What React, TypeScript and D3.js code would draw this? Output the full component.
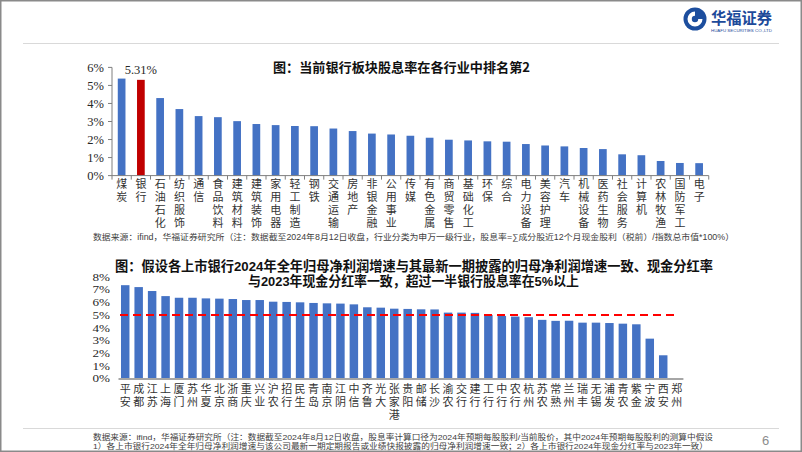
import React from "react";
import * as d3 from "d3";

const industries = ["煤炭","银行","石油石化","纺织服饰","通信","食品饮料","建筑材料","建筑装饰","家用电器","轻工制造","钢铁","交通运输","房地产","非银金融","公用事业","传媒","有色金属","商贸零售","基础化工","环保","综合","电力设备","美容护理","汽车","机械设备","医药生物","社会服务","计算机","农林牧渔","国防军工","电子"];
const industryYield = [5.38,5.31,4.30,3.69,3.30,3.24,3.02,2.86,2.80,2.75,2.74,2.61,2.47,2.33,2.28,2.21,2.10,1.99,1.95,1.90,1.88,1.75,1.67,1.62,1.53,1.47,1.18,1.13,0.81,0.70,0.69];
const yTicks1 = [0,1,2,3,4,5,6];

const banks = ["平安","成都","江苏","上海","厦门","苏州","华夏","北京","浙商","重庆","兴业","沪农","招行","民生","青岛","南京","江阴","中信","齐鲁","光大","张家港","贵阳","邮储","长沙","渝农","交行","建行","工行","中行","农行","杭州","苏农","常熟","兰州","瑞丰","无锡","浦发","青农","紫金","宁波","西安","郑州"];
const bankYield: (number | null)[] = [7.34,7.19,6.88,6.48,6.35,6.35,6.30,6.28,6.25,6.17,6.17,6.04,6.02,5.99,5.94,5.91,5.89,5.83,5.60,5.57,5.49,5.47,5.44,5.43,5.18,5.18,5.16,5.00,4.92,4.87,4.82,4.61,4.53,4.54,4.39,4.39,4.36,4.31,4.26,3.13,1.82,null];
const yTicks2 = [0,1,2,3,4,5,6,7,8];
const threshold = 5;

const title1 = "图：当前银行板块股息率在各行业中排名第2";
const title2a = "图：假设各上市银行2024年全年归母净利润增速与其最新一期披露的归母净利润增速一致、现金分红率";
const title2b = "与2023年现金分红率一致，超过一半银行股息率在5%以上";
const note1 = "数据来源：ifind，华福证券研究所（注：数据截至2024年8月12日收盘，行业分类为申万一级行业，股息率=∑成分股近12个月现金股利（税前）/指数总市值*100%）";
const note2a = "数据来源：ifind，华福证券研究所（注：数据截至2024年8月12日收盘，股息率计算口径为2024年预期每股股利/当前股价，其中2024年预期每股股利的测算中假设";
const note2b = "1）各上市银行2024年全年归母净利润增速与该公司最新一期定期报告或业绩快报披露的归母净利润增速一致；2）各上市银行2024年现金分红率与2023年一致）";

const CJK = "'Noto Sans CJK SC', sans-serif";
const MIX = "'Liberation Sans', 'Noto Sans CJK SC', sans-serif";
const SERIF = "'Liberation Serif', 'Times New Roman', serif";
const BLUE = "#4472C4";

function VLabel({ text, x, top, step, size }: { text: string; x: number; top: number; step: number; size: number }) {
  return (
    <text
      x={x}
      y={top}
      textAnchor="start"
      fontFamily={CJK}
      fontSize={size}
      fill="#333"
      style={{ writingMode: "vertical-rl", letterSpacing: `${step - size}px` } as React.CSSProperties}
    >
      {text}
    </text>
  );
}

export default function App() {
  const x1 = d3.scaleBand<string>().domain(industries).range([112, 708.75]).padding(0);
  const y1 = d3.scaleLinear().domain([0, 6]).range([175.6, 67.4]);
  const bw1 = x1.bandwidth() * 0.4;

  const x2 = d3.scaleBand<string>().domain(banks).range([118.5, 683.4]).padding(0);
  const y2 = d3.scaleLinear().domain([0, 8]).range([378.4, 276.8]);
  const bw2 = x2.bandwidth() * 0.63;

  const bounds1 = industries.map((c) => x1(c) as number).concat([x1.range()[1]]);

  return (
    <svg width={802} height={452} style={{ position: "absolute", left: 0, top: 0, background: "#fff" }}>
      <rect x={0} y={0} width={802} height={452} fill="#fff" />
      <rect x={0.75} y={0.75} width={800.5} height={450.5} fill="none" stroke="#8a8a8a" strokeWidth={1.5} />

      {/* Header */}
      <g>
        <circle cx={695} cy={19} r={11.5} fill="#1c4e9e" />
        <path d="M 695 11.5 A 7.5 7.5 0 1 0 702.5 19 L 698.2 19 A 3.2 3.2 0 1 1 695 15.8 Z" fill="#fff" />
        <text fontFamily={CJK} fill="#1d4a9a">
          <tspan x={711} y={23.5} fontWeight={700} fontSize={16} textLength={61} lengthAdjust="spacingAndGlyphs">华福证券</tspan>
          <tspan x={711} y={31.5} fontFamily="'Liberation Sans', sans-serif" fontSize={4} textLength={61} lengthAdjust="spacingAndGlyphs">HUAFU SECURITIES CO.,LTD</tspan>
        </text>
        <line x1={23} x2={779} y1={43.5} y2={43.5} stroke="#d9d9d9" strokeWidth={1} />
      </g>

      {/* Chart 1 */}
      <text x={273} y={71.5} fontFamily={CJK} fontWeight={700} fontSize={13} fill="#111" textLength={257} lengthAdjust="spacingAndGlyphs">{title1}</text>
      <g>
        {industries.map((c, i) => {
          const cx = (x1(c) as number) + x1.bandwidth() / 2;
          return (
            <rect key={c} x={cx - bw1 / 2} y={y1(industryYield[i])} width={bw1} height={y1(0) - y1(industryYield[i])} fill={c === "银行" ? "#C00000" : BLUE} />
          );
        })}
        <text x={(x1("银行") as number) + x1.bandwidth() / 2} y={y1(5.31) - 6} textAnchor="middle" fontFamily={SERIF} fontSize={12.5} fill="#262626">{industryYield[1].toFixed(2)}%</text>
        <line x1={112} x2={112} y1={y1(6)} y2={y1(0)} stroke="#7f7f7f" strokeWidth={1} />
        {yTicks1.map((t) => (
          <g key={t}>
            <line x1={108} x2={112} y1={y1(t)} y2={y1(t)} stroke="#7f7f7f" />
            <text x={104} y={y1(t)} dy="0.35em" textAnchor="end" fontFamily={SERIF} fontSize={12.5} fill="#262626">{t}%</text>
          </g>
        ))}
        <line x1={112} x2={x1.range()[1]} y1={y1(0)} y2={y1(0)} stroke="#7f7f7f" strokeWidth={1} />
        {bounds1.map((b, i) => (
          <line key={i} x1={b} x2={b} y1={y1(0)} y2={y1(0) + 4} stroke="#7f7f7f" />
        ))}
        {industries.map((c) => (
          <VLabel key={c} text={c} x={(x1(c) as number) + x1.bandwidth() / 2} top={178.8} step={12.9} size={11} />
        ))}
      </g>
      <text x={93} y={239.5} fontFamily={MIX} fontSize={8.5} fill="#404040" textLength={641} lengthAdjust="spacingAndGlyphs">{note1}</text>

      {/* Chart 2 */}
      <text x={115} y={270.5} fontFamily={MIX} fontWeight={700} fontSize={13.5} fill="#111" textLength={598} lengthAdjust="spacingAndGlyphs">{title2a}</text>
      <text x={248} y={285.5} fontFamily={MIX} fontWeight={700} fontSize={13.5} fill="#111" textLength={331} lengthAdjust="spacingAndGlyphs">{title2b}</text>
      <g>
        {banks.map((c, i) => {
          const v = bankYield[i];
          if (v == null) return null;
          const cx = (x2(c) as number) + x2.bandwidth() / 2;
          return <rect key={c} x={cx - bw2 / 2} y={y2(v)} width={bw2} height={y2(0) - y2(v)} fill={BLUE} />;
        })}
        <line x1={120} x2={679} y1={y2(threshold)} y2={y2(threshold)} stroke="#FF0000" strokeWidth={2} strokeDasharray="8,5" />
        {yTicks2.map((t) => (
          <text key={t} x={110} y={y2(t)} dy="0.35em" textAnchor="end" fontFamily={SERIF} fontSize={11.3} fill="#262626" textLength={t >= 0 ? 17.5 : 0} lengthAdjust="spacingAndGlyphs">{t}%</text>
        ))}
        <line x1={118.5} x2={683.4} y1={y2(0) + 0.5} y2={y2(0) + 0.5} stroke="#a6a6a6" strokeWidth={2} />
        {banks.map((c) => (
          <VLabel key={c} text={c} x={(x2(c) as number) + x2.bandwidth() / 2} top={383.8} step={12.6} size={11} />
        ))}
      </g>

      {/* Footer */}
      <line x1={23} x2={779} y1={428.5} y2={428.5} stroke="#d9d9d9" strokeWidth={1} />
      <text x={93} y={440} fontFamily={MIX} fontSize={8} fill="#404040" textLength={620} lengthAdjust="spacingAndGlyphs">{note2a}</text>
      <text x={93} y={449} fontFamily={MIX} fontSize={8} fill="#404040" textLength={615} lengthAdjust="spacingAndGlyphs">{note2b}</text>
      <text x={762} y={444.5} fontFamily="'Liberation Sans', sans-serif" fontSize={13} fill="#8c8c8c">6</text>
    </svg>
  );
}
